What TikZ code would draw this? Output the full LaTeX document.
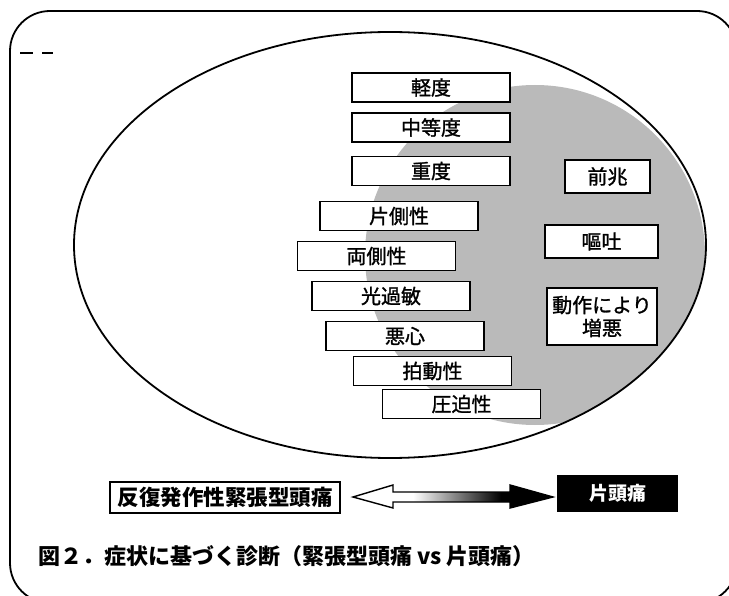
\documentclass[tikz,border=0pt]{standalone}
\usepackage{fontspec}
\newfontfamily\jp{Noto Sans CJK JP}
\newfontfamily\jpm[FakeBold=1.3]{Noto Sans CJK JP}
\usetikzlibrary{shapes.geometric}
\pgfdeclarehorizontalshading{arrowshade}{100bp}{color(0bp)=(white); color(40bp)=(white); color(62bp)=(black); color(100bp)=(black)}
\tikzset{
  sym/.style={draw=black, line width=1.7pt, fill=white, inner sep=0pt,
    minimum width=158pt, minimum height=29pt, font=\jpm\fontsize{20}{20}\selectfont},
  rsym/.style={draw=black, line width=1.7pt, fill=white, inner sep=0pt,
    font=\jpm\fontsize{20}{23}\selectfont, align=center},
  outline/.style={line width=1.8pt},
}
\begin{document}
\begin{tikzpicture}[x=1pt,y=-1pt]
\useasboundingbox (0,0) rectangle (729,596);
% frame
\draw[outline, rounded corners=40pt] (10,11) rectangle (737,603);
\draw[line width=1.2pt] (20,53) -- (33,53);
\draw[line width=1.2pt] (42,53) -- (53,53);
% shaded region
\begin{scope}
  \clip (390,245) ellipse [x radius=316, y radius=213];
  \fill[black!27] (535,255) circle [radius=170];
\end{scope}
\draw[outline] (390,245) ellipse [x radius=316, y radius=213];
% left boxes
\node[sym] (b1) at (431,87.5) {軽度};
\node[sym] (b2) at (431,127.5) {中等度};
\node[sym] (b3) at (431,171) {重度};
\node[sym] (b4) at (399,216) {片側性};
\node[sym] (b5) at (376.5,256) {両側性};
\node[sym] (b6) at (391,296) {光過敏};
\node[sym] (b7) at (405,336) {悪心};
\node[sym] (b8) at (432.5,371) {拍動性};
\node[sym] (b9) at (461.5,404) {圧迫性};
% right boxes
\node[rsym, minimum width=85pt, minimum height=33pt] (r1) at (607.5,176.5) {前兆};
\node[rsym, minimum width=113pt, minimum height=33pt] (r2) at (601.5,241.5) {嘔吐};
\node[rsym, minimum width=110pt, minimum height=57pt] (r3) at (602,316.5) {動作により\\増悪};
% bottom
\node[draw=black, line width=1.6pt, fill=white, inner sep=0pt, minimum width=230pt, minimum height=31pt,
  font=\jp\bfseries\fontsize{21.5}{21.5}\selectfont] (tth) at (225,497.5) {反復発作性緊張型頭痛};
\node[fill=black, text=white, inner sep=0pt, minimum width=121pt, minimum height=37pt,
  font=\jp\bfseries\fontsize{19}{19}\selectfont] (mig) at (617.5,493.5) {片頭痛};
\shadedraw[shading=arrowshade, line width=1.4pt, line join=miter]
  (353,497) -- (393,485) -- (393,492) -- (510,492) -- (510,485) -- (553,497)
  -- (510,508) -- (510,502) -- (393,502) -- (393,508) -- cycle;
% caption
\node[anchor=west, inner sep=0pt, font=\jp\bfseries\fontsize{22}{22}\selectfont] (cap) at (38,556)
  {図２．症状に基づく診断（緊張型頭痛 vs 片頭痛）};
\end{tikzpicture}
\end{document}
